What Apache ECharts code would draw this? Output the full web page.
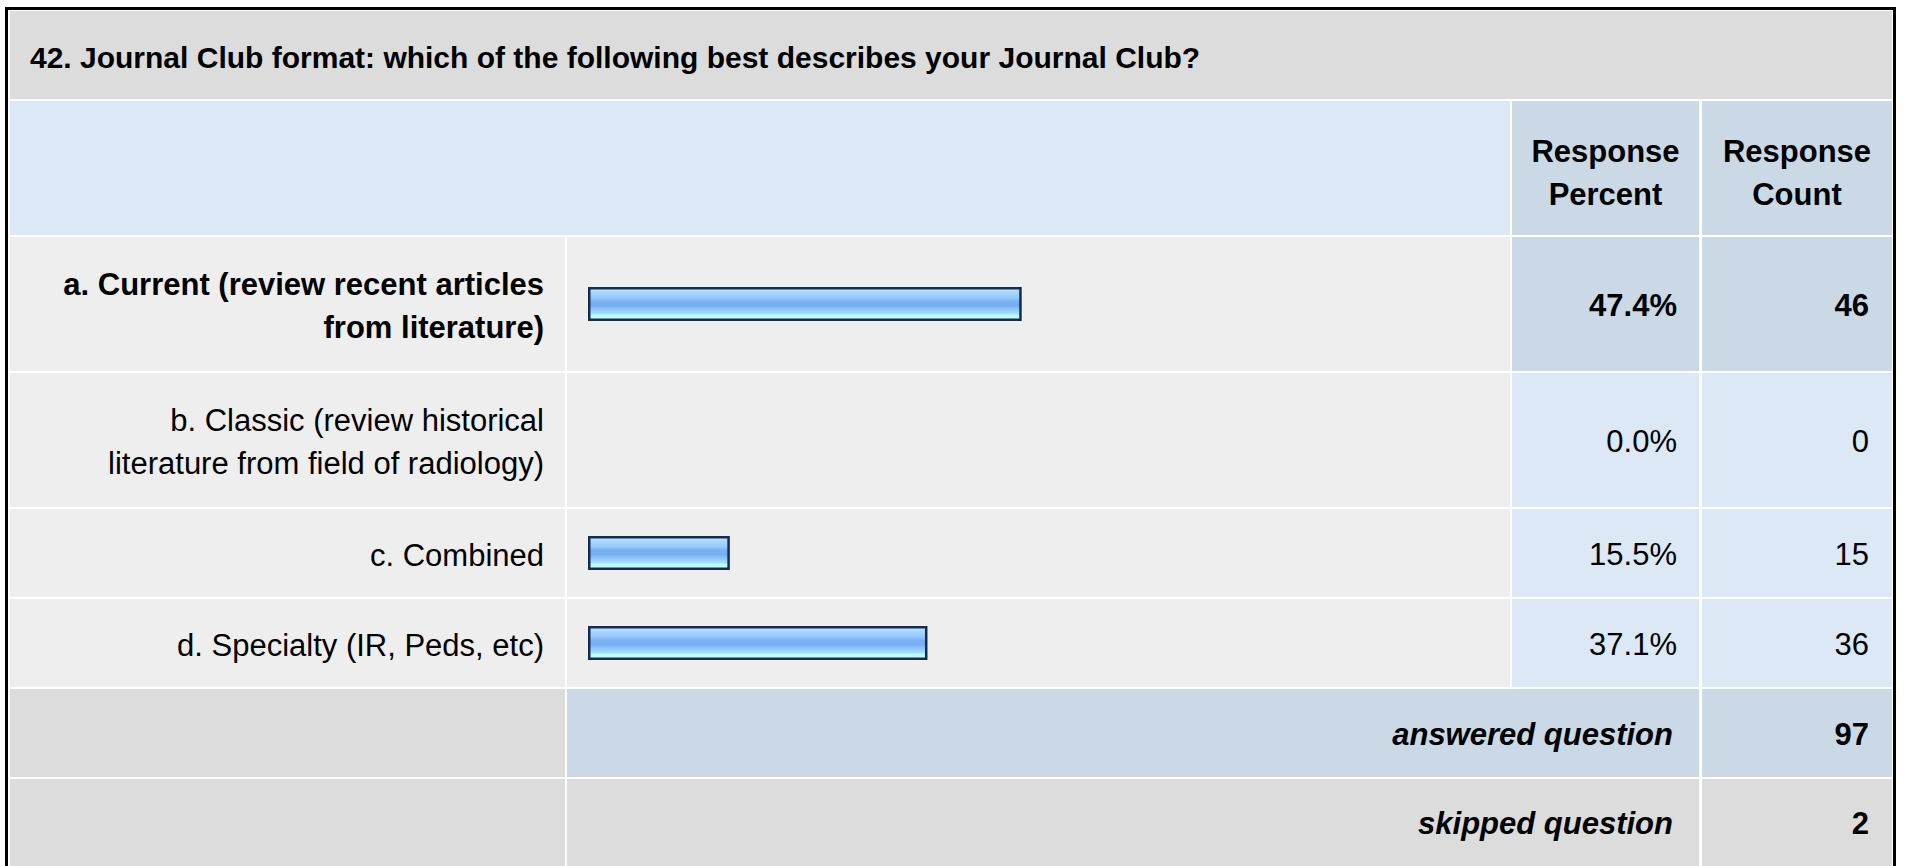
<!DOCTYPE html>
<html>
<head>
<meta charset="utf-8">
<title>42. Journal Club format</title>
<script src="https://cdn.jsdelivr.net/npm/echarts@6/dist/echarts.min.js"></script>
<style>
  html, body { margin: 0; padding: 0; background: #fff; }
  #main { width: 1907px; height: 866px; }
</style>
</head>
<body>
<div id="main"></div>
<script>
var title = "42. Journal Club format: which of the following best describes your Journal Club?";
var headers = ["Response\nPercent", "Response\nCount"];
var categories = [
  "a. Current (review recent articles\nfrom literature)",
  "b. Classic (review historical\nliterature from field of radiology)",
  "c. Combined",
  "d. Specialty (IR, Peds, etc)"
];
var percents = [47.4, 0.0, 15.5, 37.1];
var counts = [46, 0, 15, 36];
var answered = 97;
var skipped = 2;
var footLabels = ["answered question", "skipped question"];

// layout of the table (pixels)
var COL = { left: 10, label: 565, bar: 567, barEnd: 1510, pct: 1512, pctEnd: 1699, cnt: 1702, right: 1892 };
var ROW_TITLE = [11, 99];
var ROW_HEADER = [101, 235];
var ROW_ITEMS = [[237, 371], [373, 507], [509, 597], [599, 687]];
var ROW_ANSWERED = [689, 777];
var ROW_SKIPPED = [779, 900];

var GRAY = "#dcdcdc", LIGHT = "#eeeeee", BLUE = "#dce8f5", BLUE_DARK = "#cbd8e6";
var FONT = "'Liberation Sans', Arial, Helvetica, sans-serif";

var maxIdx = percents.indexOf(Math.max.apply(null, percents));

function rect(x0, y0, x1, y1, fill) {
  return { type: "rect", silent: true, shape: { x: x0, y: y0, width: x1 - x0, height: y1 - y0 }, style: { fill: fill } };
}
function txt(x, y, s, align, size, weight, italic) {
  return {
    type: "text", silent: true, x: x, y: y,
    style: {
      text: s, fill: "#000", align: align, verticalAlign: "middle",
      fontFamily: FONT, fontSize: size, fontWeight: weight || "normal",
      fontStyle: italic ? "italic" : "normal", lineHeight: 43
    }
  };
}
function mid(r) { return (r[0] + r[1]) / 2; }

var graphic = [];
// outer black frame
graphic.push(rect(5, 7, 1896, 900, "#000"));
graphic.push(rect(8, 10, 1893, 900, "#fff"));

// title row
graphic.push(rect(COL.left, ROW_TITLE[0], COL.right, ROW_TITLE[1], GRAY));
graphic.push(txt(30, 57, title, "left", 30, "bold"));

// header row
graphic.push(rect(COL.left, ROW_HEADER[0], COL.barEnd, ROW_HEADER[1], BLUE));
graphic.push(rect(COL.pct, ROW_HEADER[0], COL.pctEnd, ROW_HEADER[1], BLUE_DARK));
graphic.push(rect(COL.cnt, ROW_HEADER[0], COL.right, ROW_HEADER[1], BLUE_DARK));
graphic.push(txt((COL.pct + COL.pctEnd) / 2, mid(ROW_HEADER) + 5, headers[0], "center", 31, "bold"));
graphic.push(txt((COL.cnt + COL.right) / 2, mid(ROW_HEADER) + 5, headers[1], "center", 31, "bold"));

// answer rows
ROW_ITEMS.forEach(function (r, i) {
  var hi = i === maxIdx;
  var cellBg = hi ? BLUE_DARK : BLUE;
  var w = hi ? "bold" : "normal";
  graphic.push(rect(COL.left, r[0], COL.label, r[1], LIGHT));
  graphic.push(rect(COL.bar, r[0], COL.barEnd, r[1], LIGHT));
  graphic.push(rect(COL.pct, r[0], COL.pctEnd, r[1], cellBg));
  graphic.push(rect(COL.cnt, r[0], COL.right, r[1], cellBg));
  graphic.push(txt(544, mid(r) + 2, categories[i], "right", 31, w));
  graphic.push(txt(1677, mid(r) + 1, percents[i].toFixed(1) + "%", "right", 31, w));
  graphic.push(txt(1869, mid(r) + 1, String(counts[i]), "right", 31, w));
});

// answered / skipped rows
graphic.push(rect(COL.left, ROW_ANSWERED[0], COL.label, ROW_ANSWERED[1], GRAY));
graphic.push(rect(COL.bar, ROW_ANSWERED[0], COL.pctEnd, ROW_ANSWERED[1], BLUE_DARK));
graphic.push(rect(COL.cnt, ROW_ANSWERED[0], COL.right, ROW_ANSWERED[1], BLUE_DARK));
graphic.push(txt(1673, mid(ROW_ANSWERED) + 1, footLabels[0], "right", 31, "bold", true));
graphic.push(txt(1869, mid(ROW_ANSWERED) + 1, String(answered), "right", 31, "bold"));

graphic.push(rect(COL.left, ROW_SKIPPED[0], COL.label, ROW_SKIPPED[1], GRAY));
graphic.push(rect(COL.bar, ROW_SKIPPED[0], COL.pctEnd, ROW_SKIPPED[1], GRAY));
graphic.push(rect(COL.cnt, ROW_SKIPPED[0], COL.right, ROW_SKIPPED[1], GRAY));
graphic.push(txt(1673, 823, footLabels[1], "right", 31, "bold", true));
graphic.push(txt(1869, 823, String(skipped), "right", 31, "bold"));

// glossy blue bar fill
var barFill = {
  type: "linear", x: 0, y: 0, x2: 0, y2: 1,
  colorStops: [
    { offset: 0, color: "#d2eaff" },
    { offset: 0.12, color: "#aad6ff" },
    { offset: 0.3, color: "#98c9fc" },
    { offset: 0.42, color: "#79b0f2" },
    { offset: 0.55, color: "#76aef0" },
    { offset: 0.66, color: "#8cc4fa" },
    { offset: 0.8, color: "#a6dcff" },
    { offset: 0.86, color: "#b8fcff" },
    { offset: 1, color: "#c2ffff" }
  ]
};

// one small grid per answer row so bars sit in the middle of their row
var grids = ROW_ITEMS.map(function (r) {
  return { left: 588, width: 915, top: r[0], height: r[1] - r[0] };
});
var xAxes = categories.map(function (c, i) {
  return { gridIndex: i, type: "value", min: 0, max: 100, show: false };
});
var yAxes = categories.map(function (c, i) {
  return { gridIndex: i, type: "category", data: [c], show: false };
});
var series = percents.map(function (v, i) {
  return {
    type: "bar", xAxisIndex: i, yAxisIndex: i, barWidth: 34, silent: true,
    itemStyle: { color: barFill, borderColor: "#152c4e", borderWidth: 2.5 },
    data: [v === 0 ? { value: v, itemStyle: { opacity: 0 } } : v]
  };
});

var myChart = echarts.init(document.getElementById("main"), null, { renderer: "svg" });
myChart.setOption({
  animation: false,
  backgroundColor: "#fff",
  graphic: graphic,
  grid: grids,
  xAxis: xAxes,
  yAxis: yAxes,
  series: series
});
window.addEventListener("resize", function () { myChart.resize(); });
</script>
</body>
</html>
